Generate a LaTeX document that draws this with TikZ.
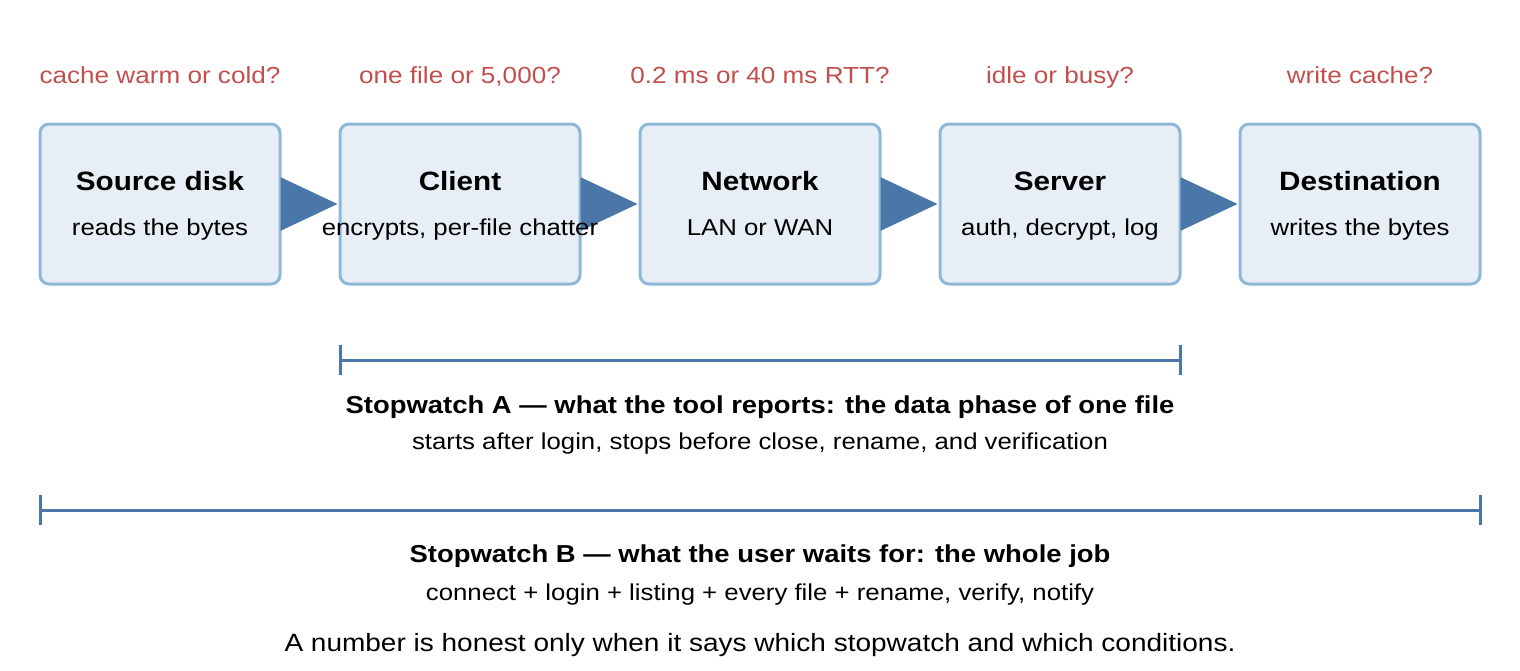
\documentclass[tikz,border=0pt]{standalone}
\usepackage{fontspec}
\setmainfont{Liberation Sans}[FakeStretch=1.12]
\usetikzlibrary{arrows.meta}
\definecolor{bd}{HTML}{8DB8D8}
\definecolor{bf}{HTML}{E8EEF5}
\definecolor{ar}{HTML}{4A77A8}
\definecolor{rq}{HTML}{C0504D}
\begin{document}
\begin{tikzpicture}[x=1pt,y=-1pt,
 box/.style={draw=bd,fill=bf,line width=3,rounded corners=9,minimum width=240,minimum height=160,inner sep=0},
 q/.style={text=rq,font=\fontsize{23.3}{28}\selectfont,anchor=base},
 conn/.style={ar,line width=12,-{Triangle[length=58,width=50]},shorten <=-1},
 br/.style={ar,line width=3},
 tt/.style={font=\fontsize{26.5}{32}\selectfont\bfseries,anchor=base},
 st/.style={font=\fontsize{23}{27}\selectfont,anchor=base}]
\useasboundingbox (0,0) rectangle (1520,670);
\foreach \n/\x in {a/160,b/460,c/760,d/1060,e/1360}{\node[box] (\n) at (\x,204) {};}
\draw[conn] (a) -- (b);
\draw[conn] (b) -- (c);
\draw[conn] (c) -- (d);
\draw[conn] (d) -- (e);
\foreach \n/\x/\t/\s/\qq in {a/160/Source disk/reads the bytes/cache warm or cold?,
 b/460/Client/{encrypts, per-file chatter}/{one file or 5,000?},
 c/760/Network/LAN or WAN/0.2 ms or 40 ms RTT?,
 d/1060/Server/{auth, decrypt, log}/idle or busy?,
 e/1360/Destination/writes the bytes/write cache?}{
 \node[tt] (\n t) at (\x,190) {\t};
 \node[st] (\n s) at (\x,235) {\s};
 \node[q] (\n q) at (\x,83) {\qq};
}
\coordinate (a1) at (340,360); \coordinate (a2) at (1180,360);
\draw[br] (a1) -- (a2);
\draw[br] (340,345) -- (340,375); \draw[br] (1180,345) -- (1180,375);
\coordinate (b1) at (40,510); \coordinate (b2) at (1480,510);
\draw[br] (b1) -- (b2);
\draw[br] (40,495) -- (40,525); \draw[br] (1480,495) -- (1480,525);
\node[font=\fontsize{24.5}{30}\selectfont\bfseries] (la) at (760,407) {Stopwatch A — what the tool reports: the data phase of one file};
\node[st,anchor=center] (la2) at (760,444) {starts after login, stops before close, rename, and verification};
\node[font=\fontsize{24.5}{30}\selectfont\bfseries] (lb) at (760,556) {Stopwatch B — what the user waits for: the whole job};
\node[st,anchor=center] (lb2) at (760,595) {connect + login + listing + every file + rename, verify, notify};
\node[font=\fontsize{25}{28}\selectfont] (n) at (760,645) {A number is honest only when it says which stopwatch and which conditions.};
\end{tikzpicture}
\end{document}
